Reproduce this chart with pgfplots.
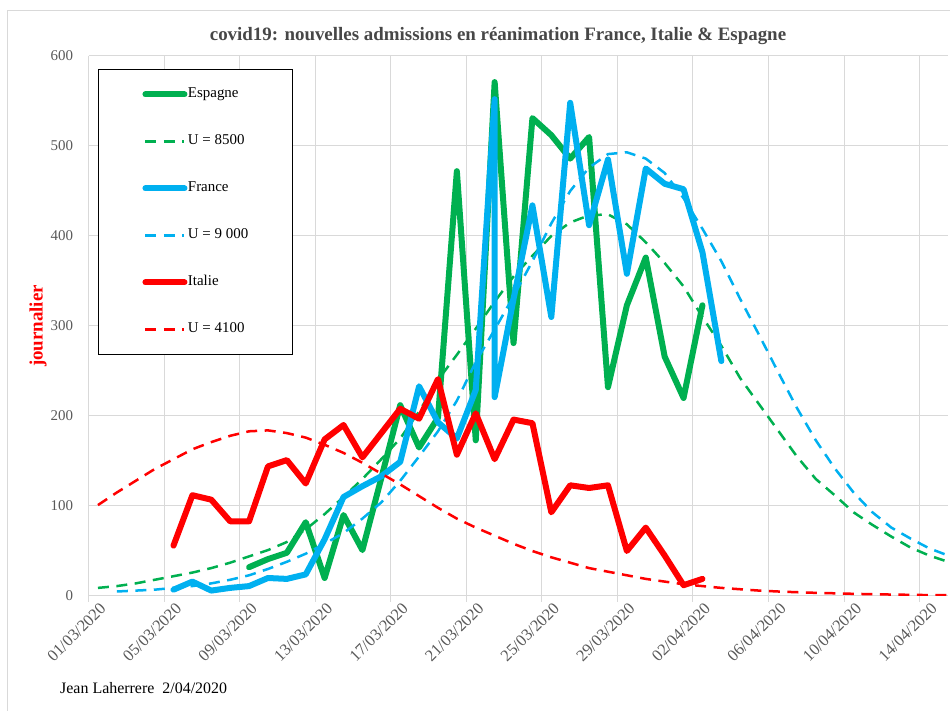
\documentclass[border=0pt]{standalone}
\usepackage{fontspec}
\setmainfont{Liberation Serif}
\usepackage{pgfplots}
\pgfplotsset{compat=1.18}
\definecolor{cgreen}{HTML}{00B050}
\definecolor{cblue}{HTML}{00B0F0}
\definecolor{cred}{HTML}{FF0000}
\definecolor{cgrid}{HTML}{D9D9D9}
\definecolor{ctick}{HTML}{595959}
\begin{document}
\begin{tikzpicture}[x=1bp,y=1bp]
\useasboundingbox (0,0) rectangle (950,711);
\draw[cgrid, line width=1bp] (7,0) -- (7,700) -- (950,700);
\begin{axis}[
  at={(88.5bp,115bp)}, anchor=south west,
  scale only axis, width=859.5bp, height=540bp,
  xmin=-0.5, xmax=45, ymin=0, ymax=600,
  xtick={-0.5,3.5,...,43.5},
  xticklabels={01/03/2020,05/03/2020,09/03/2020,13/03/2020,17/03/2020,21/03/2020,25/03/2020,29/03/2020,02/04/2020,06/04/2020,10/04/2020,14/04/2020},
  ytick={0,100,...,600},
  /pgf/number format/assume math mode=true,
  grid=major, major grid style={cgrid, line width=1bp},
  axis line style={draw=none},
  xtick pos=lower, ytick pos=left,
  xtick style={cgrid, line width=1bp}, ytick style={draw=none},
  major tick length=6bp, tick align=outside,
  xticklabel style={rotate=45, anchor=east, font=\fontsize{16.5}{18}\selectfont, text=ctick, xshift=11bp, yshift=-13bp},
  yticklabel style={font=\fontsize{15}{17}\selectfont, text=ctick, xshift=-6bp},
  ylabel={journalier},
  ylabel style={at={(axis description cs:-0.0588,0.5)}, anchor=center, font=\bfseries\fontsize{19}{21}\selectfont, text=cred},
  legend cell align=left,
  legend image code/.code={\draw[#1] (0bp,0bp) -- (39bp,0bp);},
  legend style={at={(0.011,0.976)}, anchor=north west, draw=black, line width=1bp, fill=white,
    inner xsep=44bp, inner ysep=17.5bp, row sep=32bp,
    font=\fontsize{15}{17}\selectfont,
    nodes={inner sep=0.5bp, text height=10.5bp, text depth=3.5bp}},
]
\addplot[cgreen, line width=6bp, line join=round, line cap=round] coordinates {
(8,32)(9,41)(10,48)(11,82)(12,20)(13,90)(14,51)(15,131)(16,212)(17,165)(18,198)(19,472)(20,173)(21,571)(22,281)(23,531)(24,512)(25,486)(26,510)(27,232)(28,323)(29,376)(30,266)(31,220)(32,323)};
\addlegendentry{Espagne}
\addplot[cgreen, line width=2.5bp, dash pattern=on 11bp off 7.5bp] coordinates {
(0,9)(1,11)(2,14)(3,18)(4,22)(5,26)(6,31)(7,37)(8,44)(9,51)(10,60)(11,74)(12,91)(13,110)(14,130)(15,152)(16,175)(17,205)(18,240)(19,268)(20,297)(21,327)(22,355)(23,378)(24,400)(25,415)(26,423)(27,424)(28,413)(29,393)(30,370)(31,344)(32,310)(33,278)(34,242)(35,213)(36,184)(37,155)(38,130)(39,112)(40,93)(41,79)(42,66)(43,54)(44,45)(45,38)};
\addlegendentry{U = 8500}
\addplot[cblue, line width=6bp, line join=round, line cap=round] coordinates {
(4,7)(5,16)(6,6)(7,9)(8,11)(9,20)(10,19)(11,24)(12,63)(13,110)(14,122)(15,133)(16,149)(17,233)(18,193)(19,175)(20,229)(21,552)(21,221)(22,330)(23,434)(24,310)(25,548)(26,412)(27,485)(28,358)(29,475)(30,458)(31,452)(32,382)(33,261)};
\addlegendentry{France}
\addplot[cblue, line width=2.5bp, dash pattern=on 11bp off 7.5bp] coordinates {
(1,5)(2,6)(3,7)(4,9)(5,11)(6,14)(7,18)(8,23)(9,30)(10,38)(11,47)(12,58)(13,70)(14,86)(15,104)(16,128)(17,155)(18,183)(19,217)(20,260)(21,296)(22,333)(23,372)(24,414)(25,450)(26,476)(27,491)(28,493)(29,486)(30,470)(31,442)(32,408)(33,372)(34,330)(35,290)(36,249)(37,209)(38,173)(39,142)(40,115)(41,93)(42,76)(43,64)(44,53)(45,45)};
\addlegendentry{U = 9 000}
\addplot[cred, line width=6bp, line join=round, line cap=round] coordinates {
(4,56)(5,112)(6,107)(7,83)(8,83)(9,144)(10,151)(11,125)(12,174)(13,190)(14,154)(15,181)(16,208)(17,197)(18,241)(19,157)(20,203)(21,152)(22,196)(23,192)(24,93)(25,123)(26,120)(27,123)(28,50)(29,76)(30,45)(31,12)(32,19)};
\addlegendentry{Italie}
\addplot[cred, line width=2.5bp, dash pattern=on 11bp off 7.5bp] coordinates {
(0,101)(1,115)(2,128)(3,141)(4,152)(5,163)(6,171)(7,178)(8,183)(9,184)(10,181)(11,176)(12,168)(13,159)(14,148)(15,136)(16,124)(17,111)(18,98)(19,86)(20,76)(21,67)(22,58)(23,50)(24,43)(25,37)(26,31)(27,27)(28,23)(29,19)(30,16)(31,13)(32,11)(33,9)(34,7.5)(35,6)(36,5)(37,4.2)(38,3.5)(39,3)(40,2.4)(41,2)(42,1.6)(43,1.3)(44,1)(45,0.9)};
\addlegendentry{U = 4100}
\end{axis}
\node[font=\bfseries\fontsize{19}{21}\selectfont, text=ctick!80!black] at (498,675) {covid19: nouvelles admissions en réanimation France, Italie \& Espagne};
\node[font=\fontsize{16}{18}\selectfont, anchor=west, inner sep=0] at (60,23) {Jean Laherrere\ \ 2/04/2020};
\end{tikzpicture}
\end{document}
